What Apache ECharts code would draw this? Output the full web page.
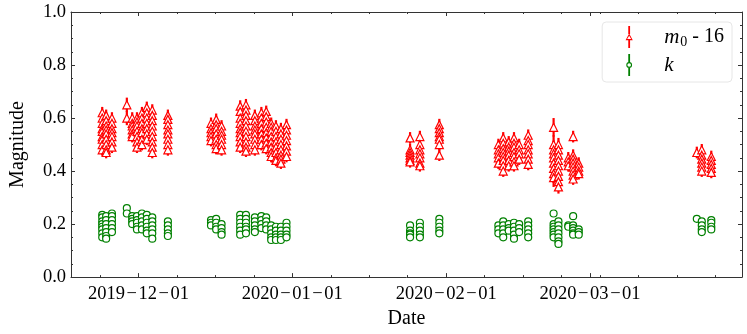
<!DOCTYPE html>
<html>
<head>
<meta charset="utf-8">
<script src="https://cdn.jsdelivr.net/npm/echarts@6/dist/echarts.min.js"></script>
<style>
  html, body { margin: 0; padding: 0; background: #fff; }
  #chart { width: 747px; height: 334px; }
</style>
</head>
<body>
<div id="chart"></div>
<script>
// one entry per observing night (several exposures per night)
const nights = [
  '2019-11-23 17:00', '2019-11-24 12:00', '2019-11-25 16:00', '2019-11-28 16:00',
  '2019-11-29 18:00', '2019-11-30 17:00', '2019-12-01 17:00', '2019-12-02 16:30',
  '2019-12-03 19:00', '2019-12-06 22:30', '2019-12-15 15:00', '2019-12-16 16:00',
  '2019-12-17 18:00', '2019-12-21 12:00', '2019-12-22 16:00', '2019-12-24 11:00',
  '2019-12-25 18:30', '2019-12-26 18:00', '2019-12-27 18:00', '2019-12-28 17:00',
  '2019-12-29 17:00', '2019-12-30 20:00', '2020-01-24 17:30', '2020-01-26 17:00',
  '2020-01-30 15:00', '2020-02-11 12:30', '2020-02-12 12:00', '2020-02-13 14:30',
  '2020-02-14 16:00', '2020-02-15 17:00', '2020-02-17 12:45', '2020-02-22 15:30',
  '2020-02-23 15:00', '2020-02-25 14:30', '2020-02-26 14:00', '2020-02-27 17:00',
  '2020-03-22 12:00', '2020-03-23 12:00', '2020-03-25 10:00'
];

// m0 - 16 for each night
const m0Values = [
  [0.62, 0.60, 0.58, 0.56, 0.55, 0.53, 0.52, 0.50, 0.48],
  [0.61, 0.59, 0.57, 0.555, 0.54, 0.52, 0.50, 0.48, 0.47],
  [0.60, 0.58, 0.56, 0.545, 0.53, 0.51, 0.49],
  [0.65, 0.60],
  [0.60, 0.58, 0.57, 0.555, 0.54, 0.53],
  [0.60, 0.585, 0.57, 0.55, 0.53, 0.51, 0.49],
  [0.62, 0.60, 0.58, 0.56, 0.545, 0.52, 0.50],
  [0.64, 0.62, 0.60, 0.58, 0.56, 0.54, 0.52],
  [0.63, 0.61, 0.59, 0.57, 0.55, 0.53, 0.51, 0.49, 0.47],
  [0.61, 0.595, 0.575, 0.555, 0.54, 0.52, 0.50, 0.48],
  [0.58, 0.56, 0.545, 0.53, 0.515],
  [0.595, 0.575, 0.56, 0.54, 0.52, 0.50, 0.485],
  [0.57, 0.55, 0.535, 0.52, 0.50, 0.48],
  [0.645, 0.625, 0.60, 0.58, 0.56, 0.545, 0.53, 0.51, 0.49],
  [0.65, 0.63, 0.61, 0.59, 0.57, 0.55, 0.53, 0.51, 0.49, 0.475],
  [0.61, 0.59, 0.57, 0.555, 0.54, 0.52, 0.50, 0.48],
  [0.62, 0.60, 0.58, 0.56, 0.54, 0.52, 0.50],
  [0.625, 0.605, 0.585, 0.565, 0.545, 0.525, 0.505, 0.485],
  [0.58, 0.565, 0.55, 0.53, 0.51, 0.49, 0.47, 0.455],
  [0.57, 0.55, 0.53, 0.51, 0.49, 0.47, 0.45, 0.44],
  [0.56, 0.54, 0.52, 0.50, 0.48, 0.46, 0.445, 0.43],
  [0.575, 0.555, 0.535, 0.515, 0.495, 0.475, 0.455],
  [0.525, 0.48, 0.47, 0.46, 0.45, 0.44, 0.435],
  [0.53, 0.50, 0.48, 0.465, 0.45, 0.43, 0.42],
  [0.575, 0.56, 0.545, 0.53, 0.52, 0.50, 0.46],
  [0.50, 0.48, 0.465, 0.45, 0.43],
  [0.525, 0.505, 0.485, 0.47, 0.455, 0.44, 0.42, 0.40],
  [0.51, 0.49, 0.475, 0.46, 0.44, 0.42],
  [0.525, 0.505, 0.49, 0.47, 0.455, 0.435, 0.42],
  [0.50, 0.48, 0.465, 0.445],
  [0.535, 0.515, 0.50, 0.48, 0.465, 0.445, 0.425],
  [0.565, 0.50, 0.48, 0.465, 0.45, 0.43, 0.41, 0.39, 0.375],
  [0.50, 0.48, 0.46, 0.44, 0.42, 0.40, 0.38, 0.36, 0.34],
  [0.45, 0.435, 0.42],
  [0.53, 0.46, 0.445, 0.43, 0.415, 0.40, 0.385, 0.37],
  [0.43, 0.415, 0.40, 0.39],
  [0.47],
  [0.48, 0.46, 0.445, 0.43, 0.415, 0.40],
  [0.455, 0.44, 0.425, 0.41, 0.395]
];

// k for each night
const kValues = [
  [0.235, 0.225, 0.21, 0.20, 0.19, 0.18, 0.165, 0.15],
  [0.23, 0.215, 0.20, 0.185, 0.17, 0.155, 0.145],
  [0.24, 0.23, 0.215, 0.20, 0.185, 0.17],
  [0.26, 0.24],
  [0.23, 0.22, 0.21, 0.20],
  [0.23, 0.215, 0.205, 0.19, 0.18],
  [0.24, 0.225, 0.21, 0.195, 0.18],
  [0.235, 0.22, 0.205, 0.19, 0.175, 0.165],
  [0.225, 0.21, 0.195, 0.18, 0.165, 0.145],
  [0.21, 0.195, 0.18, 0.165, 0.155],
  [0.215, 0.205, 0.195],
  [0.22, 0.205, 0.19, 0.18],
  [0.20, 0.185, 0.17, 0.16],
  [0.235, 0.22, 0.205, 0.19, 0.175, 0.16],
  [0.235, 0.22, 0.205, 0.19, 0.18, 0.165],
  [0.225, 0.21, 0.195, 0.18, 0.17],
  [0.23, 0.215, 0.20, 0.185],
  [0.225, 0.21, 0.195, 0.18],
  [0.195, 0.18, 0.165, 0.15, 0.14],
  [0.19, 0.175, 0.16, 0.15, 0.14],
  [0.19, 0.175, 0.16, 0.15, 0.14],
  [0.205, 0.19, 0.175, 0.16, 0.15],
  [0.195, 0.175, 0.165, 0.16, 0.15],
  [0.205, 0.19, 0.175, 0.16, 0.15],
  [0.22, 0.205, 0.19, 0.175, 0.165],
  [0.195, 0.18, 0.165],
  [0.21, 0.195, 0.18, 0.165, 0.15],
  [0.20, 0.185, 0.175],
  [0.205, 0.19, 0.175, 0.16, 0.145],
  [0.20, 0.185, 0.17],
  [0.21, 0.195, 0.18, 0.165, 0.15],
  [0.24, 0.20, 0.19, 0.18, 0.17, 0.16, 0.15],
  [0.21, 0.195, 0.18, 0.165, 0.15, 0.135, 0.125],
  [0.195, 0.19],
  [0.23, 0.195, 0.185, 0.175, 0.165, 0.16],
  [0.18, 0.17, 0.16],
  [0.22],
  [0.21, 0.195, 0.18, 0.17],
  [0.215, 0.205, 0.19, 0.18]
];

// error bar half-length per night
const m0Err = [
  0.022, 0.022, 0.022, 0.027, 0.022, 0.022, 0.022, 0.022, 0.022, 0.022,
  0.022, 0.022, 0.022, 0.022, 0.022, 0.022, 0.022, 0.022, 0.022, 0.022,
  0.022, 0.022, 0.022, 0.022, 0.022, 0.022, 0.022, 0.022, 0.022, 0.022,
  0.022, 0.035, 0.025, 0.022, 0.022, 0.022, 0.022, 0.022, 0.022
];
const kErr = [
  0.01, 0.01, 0.01, 0.01, 0.01, 0.01, 0.01, 0.01, 0.01, 0.01,
  0.01, 0.01, 0.01, 0.01, 0.01, 0.01, 0.01, 0.01, 0.01, 0.01,
  0.01, 0.01, 0.01, 0.01, 0.01, 0.01, 0.01, 0.01, 0.01, 0.01,
  0.01, 0.01, 0.01, 0.01, 0.01, 0.01, 0.01, 0.01, 0.01
];

const monthTicks = ['2019-12-01', '2020-01-01', '2020-02-01', '2020-03-01'];
const yTicks = [0, 0.2, 0.4, 0.6, 0.8, 1.0];
const xStart = '2019-11-17 10:00';
const xEnd = '2020-03-31 14:30';

const parse = s => +echarts.time.parse(s);
const xMin = parse(xStart), xMax = parse(xEnd);
const majorTicks = monthTicks.map(parse);
// minor ticks: a quarter of the first month step, counted from the first major tick
const minorStep = (majorTicks[1] - majorTicks[0]) / 4;
const minorTicks = [];
for (let t = majorTicks[0] - Math.floor((majorTicks[0] - xMin) / minorStep) * minorStep; t <= xMax; t += minorStep) {
  minorTicks.push(t);
}

function buildData(values, errs) {
  const pts = [];
  nights.forEach((n, i) => {
    const t = parse(n);
    values[i].forEach(v => pts.push([t, v, errs[i]]));
  });
  return pts;
}
const m0Data = buildData(m0Values, m0Err);
const kData = buildData(kValues, kErr);

const FONT = 'Liberation Serif';
const AXIS_COLOR = '#333';
const RED = '#ff0000';
const GREEN = '#008000';

function errorBars(color, width) {
  return function (params, api) {
    const x = api.value(0), y = api.value(1), e = api.value(2);
    const a = api.coord([x, y + e]);
    const b = api.coord([x, y - e]);
    return {
      type: 'line',
      shape: { x1: a[0], y1: a[1], x2: b[0], y2: b[1] },
      style: { stroke: color, lineWidth: width }
    };
  };
}

function dateLabel(v) {
  return echarts.time.format(v, '{yyyy}-{MM}-{dd}', false).replace(/-/g, '\u200a\u2212\u200a');
}

const lineStyle = { color: AXIS_COLOR, width: 1 };
function xAxisBase(pos, ticks, len, showLine) {
  return {
    type: 'value', position: pos, min: xMin, max: xMax, scale: true,
    axisLine: { show: showLine, lineStyle: lineStyle },
    axisTick: { show: true, inside: true, length: len, customValues: ticks, lineStyle: lineStyle },
    axisLabel: { show: false },
    splitLine: { show: false }
  };
}

// legend glyphs: bar with hollow marker (tiny corner dots keep the aspect)
const corners = 'M0 0L0.01 0L0 0.01Z M10 22L9.99 22L10 21.99Z ';
const triIcon = 'path://' + corners +
  'M4.1 0H5.9V8H4.1Z M4.1 14H5.9V22H4.1Z ' +
  'M5 7.4L8.6 14.2L1.4 14.2Z M5 9.7L3 13.1L7 13.1Z';
const circIcon = 'path://' + corners +
  'M4.1 0H5.9V8.2H4.1Z M4.1 13.8H5.9V22H4.1Z ' +
  'M2.1 11A2.9 2.9 0 1 1 7.9 11A2.9 2.9 0 1 1 2.1 11Z ' +
  'M3.2 11A1.8 1.8 0 1 0 6.8 11A1.8 1.8 0 1 0 3.2 11Z';

const chart = echarts.init(document.getElementById('chart'));
const bottomMain = xAxisBase('bottom', majorTicks, 4, true);
bottomMain.axisLabel = {
  show: true, customValues: majorTicks, formatter: dateLabel,
  fontFamily: FONT, fontSize: 18.5, color: '#000', margin: 8
};
bottomMain.name = 'Date';
bottomMain.nameLocation = 'middle';
bottomMain.nameGap = 27;
bottomMain.nameTextStyle = { fontFamily: FONT, fontSize: 20, color: '#000' };

const yBase = pos => ({
  type: 'value', position: pos, min: yTicks[0], max: yTicks[yTicks.length - 1], interval: 0.2,
  axisLine: { show: true, lineStyle: lineStyle },
  axisTick: { show: true, inside: true, length: 4, lineStyle: lineStyle },
  minorTick: { show: true, splitNumber: 4, length: 2, lineStyle: lineStyle },
  splitLine: { show: false },
  axisLabel: { show: false }
});
const yLeft = yBase('left');
yLeft.axisLabel = {
  show: true, formatter: v => v.toFixed(1),
  fontFamily: FONT, fontSize: 18.5, color: '#000', margin: 5
};
yLeft.name = 'Magnitude';
yLeft.nameLocation = 'middle';
yLeft.nameGap = 43;
yLeft.nameTextStyle = { fontFamily: FONT, fontSize: 20, color: '#000' };

chart.setOption({
  animation: false,
  grid: { left: 55, right: 5, top: 12, bottom: 49, containLabel: false },
  xAxis: [
    bottomMain,
    xAxisBase('bottom', minorTicks, 2, false),
    xAxisBase('top', majorTicks, 4, true),
    xAxisBase('top', minorTicks, 2, false)
  ],
  yAxis: [yLeft, yBase('right')],
  legend: {
    orient: 'vertical', right: 15, top: 22,
    backgroundColor: '#fff', borderColor: '#e6e6e6', borderWidth: 1, borderRadius: 4,
    padding: [3, 8, 6, 22], itemWidth: 10, itemHeight: 22, itemGap: 5,
    data: [
      { name: 'm0 - 16', icon: triIcon, itemStyle: { color: RED, borderWidth: 0 } },
      { name: 'k', icon: circIcon, itemStyle: { color: GREEN, borderWidth: 0 } }
    ],
    formatter: n => (n === 'k' ? '{it|k}' : '{it|m}{sub|0}{n| - 16}'),
    textStyle: {
      padding: [0, 0, 0, 25],
      rich: {
        it: { fontFamily: FONT, fontStyle: 'italic', fontSize: 21, color: '#000', lineHeight: 22 },
        sub: { fontFamily: FONT, fontSize: 14, color: '#000', padding: [10, 0, 0, 1], lineHeight: 22 },
        n: { fontFamily: FONT, fontSize: 20, color: '#000', lineHeight: 22 }
      }
    }
  },
  series: [
    {
      name: 'm0 - 16 err', type: 'custom', xAxisIndex: 0, yAxisIndex: 0,
      renderItem: errorBars(RED, 2.2), data: m0Data, encode: { x: 0, y: 1 }, z: 1, silent: true
    },
    {
      name: 'm0 - 16', type: 'scatter', xAxisIndex: 0, yAxisIndex: 0,
      symbol: 'triangle', symbolSize: 8, data: m0Data.map(d => [d[0], d[1]]),
      itemStyle: { color: '#fff', borderColor: RED, borderWidth: 1.2, opacity: 1 }, z: 2
    },
    {
      name: 'k err', type: 'custom', xAxisIndex: 0, yAxisIndex: 0,
      renderItem: errorBars(GREEN, 2), data: kData, encode: { x: 0, y: 1 }, z: 3, silent: true
    },
    {
      name: 'k', type: 'scatter', xAxisIndex: 0, yAxisIndex: 0,
      symbol: 'circle', symbolSize: 7, data: kData.map(d => [d[0], d[1]]),
      itemStyle: { color: '#fff', borderColor: GREEN, borderWidth: 1.2, opacity: 1 }, z: 4
    }
  ]
});
</script>
</body>
</html>
